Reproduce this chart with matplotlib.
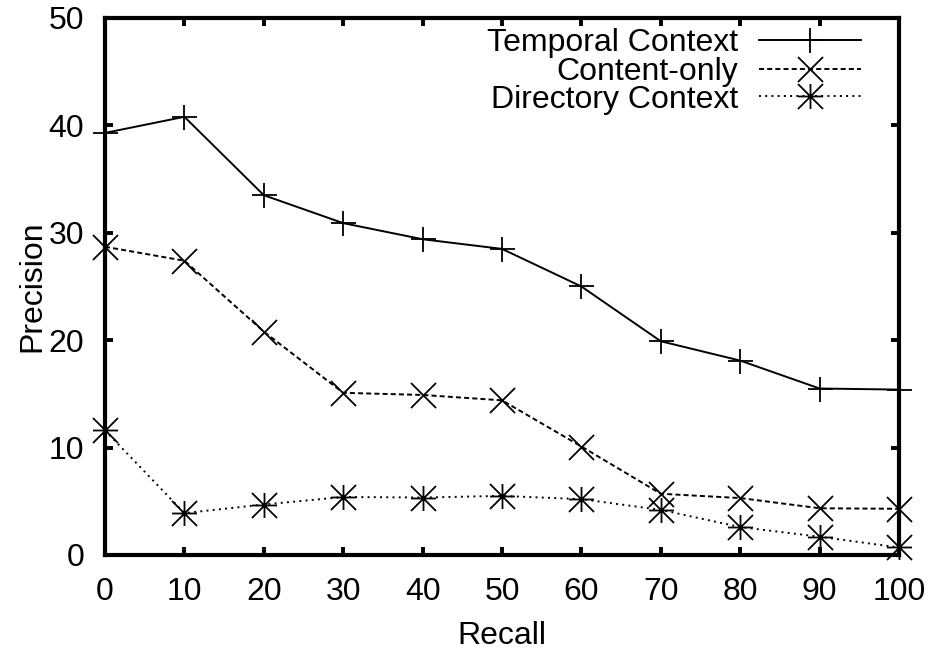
import matplotlib
matplotlib.use("Agg")
import matplotlib.pyplot as plt
from matplotlib.path import Path
from matplotlib.legend import Legend

plt.rcParams['font.family'] = ['Liberation Sans', 'DejaVu Sans']

recall = [0, 10, 20, 30, 40, 50, 60, 70, 80, 90, 100]
temporal = [39.3, 40.8, 33.5, 30.9, 29.4, 28.5, 25.0, 19.9, 18.1, 15.5, 15.4]
content_only = [28.7, 27.4, 20.8, 15.1, 14.9, 14.4, 10.1, 5.7, 5.3, 4.35, 4.3]
directory = [11.6, 3.9, 4.7, 5.4, 5.35, 5.5, 5.2, 4.2, 2.6, 1.7, 0.7]

labels = ["Temporal Context", "Content-only", "Directory Context"]
xticks = [0, 10, 20, 30, 40, 50, 60, 70, 80, 90, 100]
yticks = [0, 10, 20, 30, 40, 50]

FS = 23

# asterisk marker (+ overlaid with x)
ast = Path([(-1, 0), (1, 0), (0, -1), (0, 1), (-1, -1), (1, 1), (-1, 1), (1, -1)],
           [Path.MOVETO, Path.LINETO] * 4)

fig = plt.figure(figsize=(9.30, 6.52), dpi=100)
ax = fig.add_axes([0.1129, 0.1488, 0.8538, 0.8236])

common = dict(color='black', lw=1.4, ms=18, mew=1.3, clip_on=False)
l1, = ax.plot(recall, temporal, marker='+', linestyle='-', **common)
l2, = ax.plot(recall, content_only, marker='x', linestyle=(0, (2.6, 1.6)), **common)
l3, = ax.plot(recall, directory, marker=ast, linestyle=(0, (1.0, 2.2)), **common)

ax.set_xlim(0, 100)
ax.set_ylim(0, 50)
ax.set_xticks(xticks)
ax.set_yticks(yticks)
ax.tick_params(direction='in', length=6, width=2.8, top=True, right=True,
               labelsize=FS, colors='black')
ax.tick_params(axis='x', pad=16)
ax.tick_params(axis='y', pad=15)
for s in ax.spines.values():
    s.set_linewidth(3)

ax.set_xlabel("Recall", fontsize=FS, labelpad=10)
ax.set_ylabel("Precision", fontsize=FS, labelpad=1)

ypos = [0.953, 0.900, 0.848]
for h, lab, yp in zip([l1, l2, l3], labels, ypos):
    leg = Legend(ax, [h], [lab], loc='center right', bbox_to_anchor=(0.952, yp),
                 bbox_transform=ax.transAxes, frameon=False, markerfirst=False,
                 handlelength=3.2, handletextpad=0.65, borderpad=0,
                 borderaxespad=0, fontsize=FS, numpoints=1)
    ax.add_artist(leg)

fig.savefig("out.png", dpi=100)
